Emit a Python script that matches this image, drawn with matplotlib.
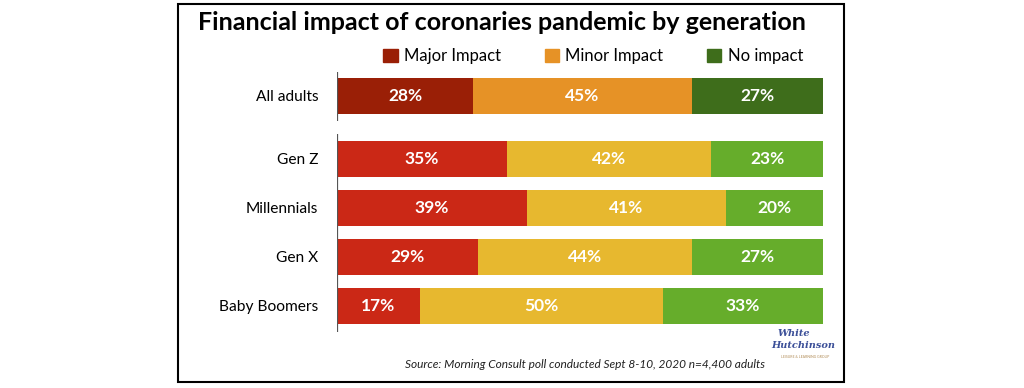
import matplotlib
matplotlib.use("Agg")
import matplotlib.pyplot as plt
from matplotlib.patches import Rectangle, Patch
import numpy as np

# ------------------------------------------------------------------ #
# Data
# ------------------------------------------------------------------ #
groups = ["All adults", "Gen Z", "Millennials", "Gen X", "Baby Boomers"]
major_impact = [28, 35, 39, 29, 17]
minor_impact = [45, 42, 41, 44, 50]
no_impact = [27, 23, 20, 27, 33]
series_names = ["Major Impact", "Minor Impact", "No impact"]

# first row ("All adults") uses darker shades
dark_colors = ["#9a1f06", "#e69226", "#3e6d1b"]
light_colors = ["#cb2816", "#e7b82f", "#66ad2b"]

W, H = 1024, 388
plt.rcParams["font.family"] = ["Lato", "DejaVu Sans"]


def fx(px):
    return px / W


def fy(py):
    return 1 - py / H


fig = plt.figure(figsize=(W / 100, H / 100), dpi=100)

# plot area in pixels: x 337..823, y 72..332
ax = fig.add_axes([fx(337), fy(332), fx(823) - fx(337), fy(72) - fy(332)])

row_px = 49.0
ypos = np.array([0, 63, 112, 161, 210]) / row_px
bar_h = 36 / row_px

left = np.zeros(len(groups))
for i, vals in enumerate([major_impact, minor_impact, no_impact]):
    vals = np.array(vals)
    colors = [dark_colors[i]] + [light_colors[i]] * (len(groups) - 1)
    bars = ax.barh(ypos, vals, left=left, height=bar_h, color=colors)
    ax.bar_label(bars, labels=[f"{v}%" for v in vals], label_type="center",
                 color="white", fontsize=12.5, fontweight="bold")
    left += vals

ax.set_xlim(0, 100)
ax.set_ylim((332 - 96) / row_px, (72 - 96) / row_px)
for s in ax.spines.values():
    s.set_visible(False)
ax.set_xticks([])
ax.set_yticks(ypos)
ax.set_yticklabels(groups, fontsize=11.2)
ax.tick_params(axis="y", length=0, pad=13.5)

# split vertical axis line
ax.vlines(0, (72 - 96) / row_px, (121 - 96) / row_px, color="#555555", lw=1.6)
ax.vlines(0, (134 - 96) / row_px, (332 - 96) / row_px, color="#555555", lw=1.6)

# title
fig.text(fx(502), fy(23), "Financial impact of coronaries pandemic by generation",
         ha="center", va="center", fontsize=18, fontweight="bold", color="black")

# legend
handles = [Patch(color=c) for c in dark_colors]
fig.legend(handles, series_names, loc="center right",
           bbox_to_anchor=(fx(803), fy(56)), ncol=3, frameon=False,
           fontsize=12, handlelength=0.85, handleheight=0.85,
           handletextpad=0.4, columnspacing=2.6, borderpad=0, borderaxespad=0)

# source note
fig.text(fx(765), fy(364), "Source: Morning Consult poll conducted Sept 8-10, 2020 n=4,400 adults",
         ha="right", va="center", fontsize=8.6, style="italic", color="#222222")

# logo (approximation)
fig.text(fx(794), fy(334), "White", ha="center", va="center", fontsize=7,
         style="italic", fontweight="bold", family="DejaVu Serif", color="#3b4f98")
fig.text(fx(803), fy(346), "Hutchinson", ha="center", va="center", fontsize=7,
         style="italic", fontweight="bold", family="DejaVu Serif", color="#3b4f98")
fig.text(fx(805), fy(357), "LEISURE & LEARNING GROUP", ha="center", va="center",
         fontsize=2.5, color="#b08b55")

# frame around the whole graphic
fig.patches.append(Rectangle((fx(178), fy(382)), fx(844) - fx(178), fy(4) - fy(382),
                             transform=fig.transFigure, fill=False,
                             edgecolor="black", lw=1.5))

fig.savefig("out.png", dpi=100)
